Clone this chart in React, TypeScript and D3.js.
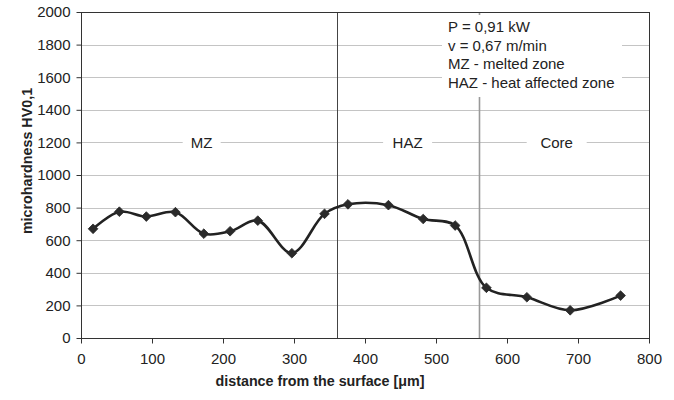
import React, { useEffect, useRef } from "react";
import * as d3 from "d3";

const distance = [17, 54, 92, 133, 173, 210, 249, 297, 343, 376, 433, 482, 527, 571, 628, 689, 760];
const hardness = [670, 775, 745, 772, 640, 655, 720, 520, 762, 820, 815, 730, 690, 308, 250, 170, 260];

const yTicks = [0, 200, 400, 600, 800, 1000, 1200, 1400, 1600, 1800, 2000];
const xTicks = [0, 100, 200, 300, 400, 500, 600, 700, 800];

const zoneBorders = [360, 560];
const zoneNames = ["MZ", "HAZ", "Core"];
const zoneLabelX = [170, 460, 670];
const zoneLabelY = 1200;

const notes = ["P = 0,91 kW", "v = 0,67 m/min", "MZ - melted zone", "HAZ - heat affected zone"];

const W = 674;
const H = 400;
const margin = { left: 81, right: 25, top: 12, bottom: 62 };
const font = "'Liberation Sans', Arial, sans-serif";

const App = () => {
  const svgRef = useRef<SVGSVGElement>(null);

  useEffect(() => {
    const svg = d3.select(svgRef.current);
    svg.selectAll("*").remove();

    const x = d3.scaleLinear().domain([0, 800]).range([margin.left, W - margin.right]);
    const y = d3.scaleLinear().domain([0, 2000]).range([H - margin.bottom, margin.top]);

    // grid
    svg
      .append("g")
      .selectAll("line")
      .data(yTicks.slice(1, -1))
      .enter()
      .append("line")
      .attr("x1", x(0))
      .attr("x2", x(800))
      .attr("y1", (d) => Math.round(y(d)) + 0.5)
      .attr("y2", (d) => Math.round(y(d)) + 0.5)
      .attr("stroke", "#c4c4c4")
      .attr("stroke-width", 1);

    // zone borders
    svg
      .append("g")
      .selectAll("line")
      .data(zoneBorders)
      .enter()
      .append("line")
      .attr("x1", (d) => Math.round(x(d)) + 0.5)
      .attr("x2", (d) => Math.round(x(d)) + 0.5)
      .attr("y1", y(2000))
      .attr("y2", y(0))
      .attr("stroke", (_, i) => (i === 0 ? "#444" : "#999"))
      .attr("stroke-width", (_, i) => (i === 0 ? 1 : 1.6));

    // plot border
    svg
      .append("rect")
      .attr("x", x(0) + 0.5)
      .attr("y", y(2000) + 0.5)
      .attr("width", x(800) - x(0))
      .attr("height", y(0) - y(2000))
      .attr("fill", "none")
      .attr("stroke", "#333")
      .attr("stroke-width", 1);

    // zone labels with white background
    const zl = svg
      .append("g")
      .selectAll("g")
      .data(zoneNames)
      .enter()
      .append("g")
      .attr("transform", (_, i) => `translate(${x(zoneLabelX[i])}, ${y(zoneLabelY)})`);
    zl.append("rect")
      .attr("x", (d) => -d.length * 5.5 - 8)
      .attr("y", -9)
      .attr("width", (d) => d.length * 11 + 16)
      .attr("height", 18)
      .attr("fill", "#fff");
    zl.append("text")
      .attr("text-anchor", "middle")
      .attr("dy", "0.35em")
      .attr("font-family", font)
      .attr("font-size", 15)
      .attr("fill", "#222")
      .text((d) => d);

    // notes box
    const nb = svg.append("g").attr("transform", `translate(${442}, ${15})`);
    nb.append("rect").attr("width", 180).attr("height", 82).attr("fill", "#fff");
    nb.selectAll("text")
      .data(notes)
      .enter()
      .append("text")
      .attr("x", 6)
      .attr("y", (_, i) => 17 + i * 18.5)
      .attr("font-family", font)
      .attr("font-size", 15)
      .attr("fill", "#222")
      .text((d) => d);

    // axes
    const yAxis = svg
      .append("g")
      .attr("transform", `translate(${x(0) + 0.5},0)`)
      .call(d3.axisLeft(y).tickValues(yTicks).tickFormat(d3.format("d")).tickSize(5).tickPadding(6));
    const xAxis = svg
      .append("g")
      .attr("transform", `translate(0,${y(0) + 0.5})`)
      .call(d3.axisBottom(x).tickValues(xTicks).tickFormat(d3.format("d")).tickSize(5).tickPadding(6));
    [yAxis, xAxis].forEach((a) => {
      a.select(".domain").remove();
      a.selectAll("line").attr("stroke", "#333");
      a.selectAll("text")
        .attr("font-family", font)
        .attr("font-size", 15)
        .attr("fill", "#222");
    });
    xAxis.selectAll("text").attr("dy", "0.95em");

    // curve
    const pts = distance.map((d, i) => [x(d), y(hardness[i])] as [number, number]);
    svg
      .append("path")
      .attr("d", d3.line().curve(d3.curveCatmullRom.alpha(0.5))(pts))
      .attr("fill", "none")
      .attr("stroke", "#222")
      .attr("stroke-width", 2.6);

    svg
      .append("g")
      .selectAll("path")
      .data(pts)
      .enter()
      .append("path")
      .attr("transform", (d) => `translate(${d[0]},${d[1]})`)
      .attr("d", d3.symbol(d3.symbolDiamond2, 60)())
      .attr("fill", "#2a2a2a")
      .attr("stroke", "#2a2a2a")
      .attr("stroke-width", 0.8);

    // axis titles
    svg
      .append("text")
      .attr("x", 320)
      .attr("y", 386)
      .attr("text-anchor", "middle")
      .attr("font-family", font)
      .attr("font-weight", "bold")
      .attr("font-size", 14.3)
      .attr("fill", "#222")
      .text("distance from the surface [μm]");
    svg
      .append("text")
      .attr("transform", "translate(32,161) rotate(-90)")
      .attr("text-anchor", "middle")
      .attr("font-family", font)
      .attr("font-weight", "bold")
      .attr("font-size", 14.3)
      .attr("fill", "#222")
      .text("microhardness HV0,1");
  }, []);

  return (
    <svg
      ref={svgRef}
      width={W}
      height={H}
      style={{ position: "absolute", left: 0, top: 0, background: "#fff" }}
    ></svg>
  );
};

export default App;
